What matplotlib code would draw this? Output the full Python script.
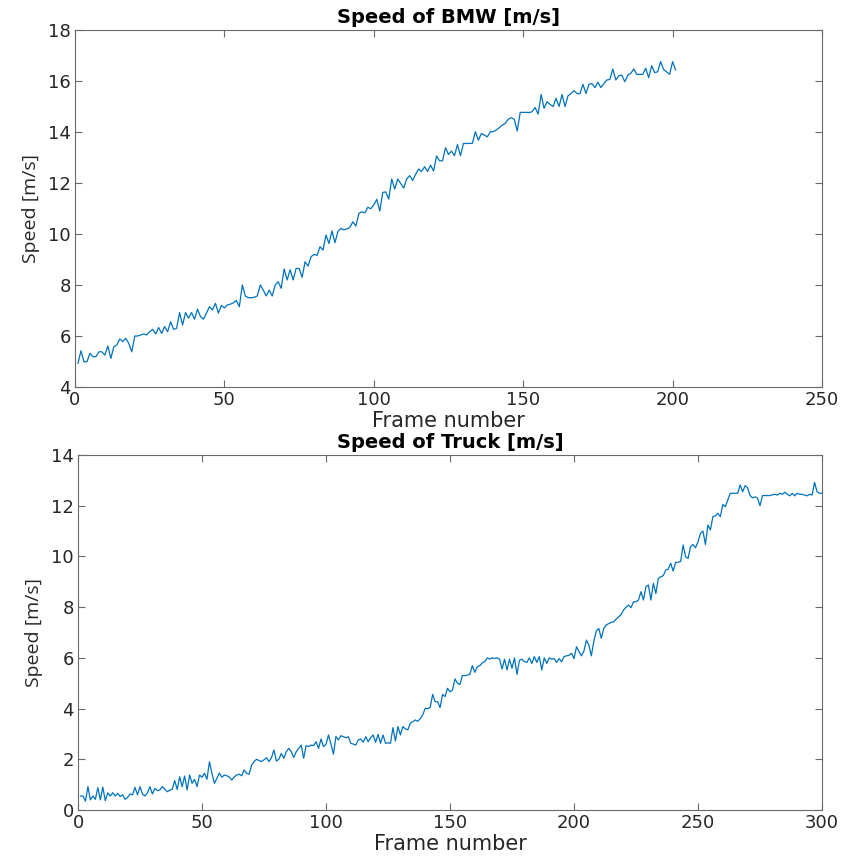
import matplotlib
matplotlib.use("Agg")
import matplotlib.pyplot as plt
import numpy as np

# ---- data ----
bmw_speed = [
    4.93, 5.42, 4.99, 4.99, 5.32, 5.19, 5.19, 5.38, 5.38, 5.25,
    5.61, 5.12, 5.58, 5.65, 5.88, 5.78, 5.91, 5.71, 5.38, 6.00,
    6.00, 6.04, 6.08, 6.04, 6.17, 6.26, 6.08, 6.33, 6.10, 6.37,
    6.17, 6.56, 6.26, 6.30, 6.92, 6.43, 6.92, 6.70, 6.92, 6.66,
    7.05, 6.76, 6.66, 6.90, 7.15, 7.02, 7.28, 6.90, 7.20, 7.10,
    7.22, 7.25, 7.30, 7.39, 7.15, 8.00, 7.57, 7.50, 7.50, 7.52,
    7.57, 8.00, 7.80, 7.57, 7.80, 7.57, 8.00, 8.13, 7.87, 8.63,
    8.20, 8.60, 8.20, 8.65, 8.65, 8.30, 8.91, 8.74, 9.11, 9.20,
    9.16, 9.50, 9.37, 9.96, 9.63, 10.12, 9.66, 10.10, 10.22, 10.16,
    10.20, 10.26, 10.48, 10.31, 10.81, 10.87, 10.83, 11.05, 10.99, 11.14,
    11.36, 10.90, 11.63, 11.65, 11.37, 12.16, 11.76, 12.16, 11.98, 11.80,
    12.16, 12.29, 12.10, 12.34, 12.55, 12.45, 12.64, 12.45, 12.70, 12.47,
    13.06, 12.87, 12.87, 13.38, 13.12, 13.25, 13.07, 13.51, 13.07, 13.55,
    13.55, 13.55, 13.56, 14.01, 13.68, 13.94, 13.88, 13.81, 14.01, 14.01,
    14.08, 14.17, 14.27, 14.34, 14.50, 14.56, 14.50, 14.04, 14.77, 14.77,
    14.77, 14.76, 14.80, 14.96, 14.70, 15.47, 14.93, 15.19, 15.08, 15.00,
    15.32, 15.00, 15.47, 15.00, 15.42, 15.51, 15.62, 15.51, 15.50, 15.87,
    15.51, 15.87, 15.90, 15.74, 15.95, 15.74, 15.90, 16.04, 16.06, 16.47,
    16.04, 16.21, 16.23, 15.97, 16.23, 16.30, 16.47, 16.26, 16.26, 16.26,
    16.50, 16.13, 16.60, 16.33, 16.36, 16.76, 16.45, 16.36, 16.26, 16.76,
    16.43,
]

truck_speed = [
    0.55, 0.55, 0.35, 0.92, 0.40, 0.55, 0.42, 0.88, 0.40, 0.90,
    0.37, 0.68, 0.55, 0.68, 0.55, 0.66, 0.53, 0.60, 0.42, 0.50,
    0.63, 0.60, 0.89, 0.60, 0.92, 0.63, 0.55, 0.68, 0.92, 0.63,
    0.85, 0.76, 0.79, 0.92, 0.82, 0.72, 0.78, 0.82, 1.16, 0.81,
    1.31, 0.92, 1.34, 0.79, 1.38, 1.05, 1.21, 0.92, 1.38, 1.29,
    1.45, 1.21, 1.90, 1.45, 1.05, 1.25, 1.46, 1.29, 1.38, 1.35,
    1.30, 1.18, 1.31, 1.38, 1.41, 1.35, 1.58, 1.45, 1.41, 1.77,
    1.91, 2.00, 1.95, 1.91, 1.98, 2.06, 1.91, 2.06, 2.37, 1.93,
    2.00, 2.23, 2.04, 2.30, 2.43, 2.30, 2.07, 2.30, 2.43, 2.56,
    2.04, 2.54, 2.50, 2.56, 2.54, 2.69, 2.43, 2.80, 2.50, 2.59,
    2.96, 2.60, 2.20, 2.90, 2.76, 2.93, 2.89, 2.85, 2.89, 2.63,
    2.60, 2.56, 2.76, 2.80, 2.67, 2.89, 2.69, 2.85, 2.96, 2.67,
    2.98, 2.63, 2.96, 2.63, 2.65, 2.63, 3.25, 2.72, 3.29, 2.96,
    3.29, 3.20, 3.16, 3.42, 3.48, 3.55, 3.50, 3.60, 3.75, 4.01,
    4.00, 4.04, 4.56, 4.27, 4.27, 4.04, 4.56, 4.47, 4.80, 4.66,
    4.73, 5.17, 5.00, 4.95, 5.30, 5.30, 5.32, 5.35, 5.69, 5.43,
    5.65, 5.69, 5.80, 5.85, 6.00, 5.95, 6.00, 5.98, 6.00, 5.95,
    5.56, 5.95, 5.52, 5.95, 5.59, 6.00, 5.35, 5.90, 5.95, 5.85,
    5.82, 6.00, 5.78, 6.05, 5.82, 6.05, 5.52, 6.00, 5.78, 6.00,
    5.95, 5.97, 5.82, 5.97, 5.85, 6.05, 6.08, 6.10, 6.18, 5.97,
    6.44, 6.25, 6.08, 6.27, 6.70, 6.50, 6.08, 6.66, 7.06, 7.16,
    6.77, 7.16, 7.30, 7.35, 7.40, 7.42, 7.53, 7.62, 7.71, 7.89,
    8.00, 8.08, 7.98, 8.21, 8.21, 8.28, 8.61, 8.28, 8.81, 8.87,
    8.28, 8.94, 8.54, 9.13, 9.20, 9.24, 9.46, 9.50, 9.73, 9.42,
    9.77, 9.77, 9.80, 10.45, 9.99, 9.92, 10.38, 10.47, 10.34, 10.58,
    10.91, 11.00, 10.47, 11.24, 11.04, 11.57, 11.60, 11.70, 11.57, 12.05,
    11.96, 12.22, 12.49, 12.49, 12.49, 12.49, 12.82, 12.55, 12.79, 12.71,
    12.40, 12.31, 12.35, 12.30, 12.00, 12.40, 12.40, 12.40, 12.40, 12.43,
    12.45, 12.42, 12.49, 12.45, 12.53, 12.45, 12.39, 12.49, 12.39, 12.49,
    12.45, 12.45, 12.42, 12.39, 12.45, 12.42, 12.92, 12.55, 12.49, 12.49,
]

bmw_frames = np.arange(1, len(bmw_speed) + 1)
truck_frames = np.arange(1, len(truck_speed) + 1)

titles = ["Speed of BMW [m/s]", "Speed of Truck [m/s]"]
xlabel = "Frame number"
ylabel = "Speed [m/s]"
bmw_xticks = [0, 50, 100, 150, 200, 250]
bmw_yticks = [4, 6, 8, 10, 12, 14, 16, 18]
truck_xticks = [0, 50, 100, 150, 200, 250, 300]
truck_yticks = [0, 2, 4, 6, 8, 10, 12, 14]

# ---- drawing ----
W, H = 845, 859
fig = plt.figure(figsize=(W / 100, H / 100), dpi=100)

line_color = "#0072BD"
axis_color = "#6a6a6a"
text_color = "#262626"


def style(ax):
    for s in ax.spines.values():
        s.set_color(axis_color)
        s.set_linewidth(0.8)
    ax.tick_params(direction="in", length=5, width=0.8, color=axis_color,
                   labelcolor=text_color, labelsize=13, top=True, right=True,
                   pad=3)


ax1 = fig.add_axes([75 / W, 1 - 387 / H, 747 / W, 357 / H])
ax1.plot(bmw_frames, bmw_speed, color=line_color, linewidth=0.9)
ax1.set_xlim(0, 250)
ax1.set_ylim(4, 18)
ax1.set_xticks(bmw_xticks)
ax1.set_yticks(bmw_yticks)
style(ax1)
ax1.set_title(titles[0], fontsize=14, fontweight="bold", color="black", pad=5)
ax1.set_xlabel(xlabel, fontsize=15, color=text_color, labelpad=1)
ax1.set_ylabel(ylabel, fontsize=14, color=text_color, labelpad=6,
               family=["Open Sans", "DejaVu Sans"])

ax2 = fig.add_axes([78 / W, 1 - 810 / H, 744 / W, 355 / H])
ax2.plot(truck_frames, truck_speed, color=line_color, linewidth=0.9)
ax2.set_xlim(0, 300)
ax2.set_ylim(0, 14)
ax2.set_xticks(truck_xticks)
ax2.set_yticks(truck_yticks)
style(ax2)
ax2.set_title(titles[1], fontsize=14, fontweight="bold", color="black", pad=5)
ax2.set_xlabel(xlabel, fontsize=15, color=text_color, labelpad=1)
ax2.set_ylabel(ylabel, fontsize=14, color=text_color, labelpad=6,
               family=["Open Sans", "DejaVu Sans"])

fig.savefig("out.png", dpi=100)
